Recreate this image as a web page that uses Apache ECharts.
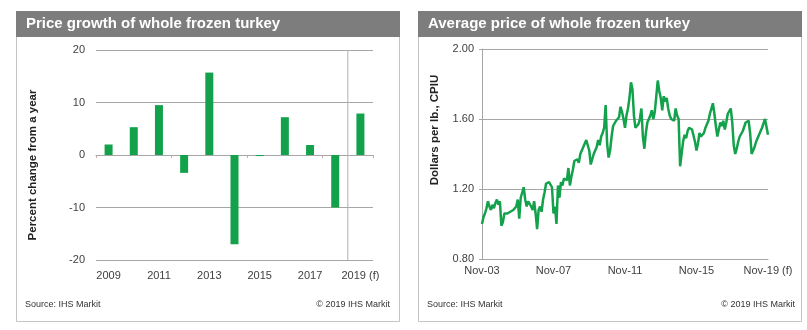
<!DOCTYPE html>
<html>
<head>
<meta charset="utf-8">
<script src="https://cdn.jsdelivr.net/npm/echarts@6/dist/echarts.min.js"></script>
<style>
  html, body { margin: 0; padding: 0; background: #fff; }
  #chart { width: 807px; height: 330px; }
</style>
</head>
<body>
<div id="chart"></div>
<script>
// Annual price growth of whole frozen turkey, percent change from a year earlier
const growthYears = ['2009', '2010', '2011', '2012', '2013', '2014', '2015', '2016', '2017', '2018', '2019 (f)'];
const growthValues = [2.0, 5.3, 9.5, -3.4, 15.7, -17.0, -0.2, 7.2, 1.9, -10.0, 7.9];
const forecastBoundary = 10; // category boundary where the forecast starts

// Monthly average price, dollars per lb (CPIU), Nov-03 through Nov-19
const priceTickLabels = ['Nov-03', 'Nov-07', 'Nov-11', 'Nov-15', 'Nov-19 (f)'];
const monthlyPrice = [
  1.00, 1.04, 1.06, 1.09, 1.13, 1.10, 1.08, 1.11, 1.09, 1.12, 1.14, 1.11,
  1.13, 0.99, 1.01, 1.06, 1.05, 1.06, 1.06, 1.07, 1.06, 1.08, 1.07, 1.10,
  1.14, 1.03, 1.15, 1.18, 1.21, 1.14, 1.10, 1.13, 1.12, 1.10, 1.08, 1.13,
  1.06, 0.97, 1.08, 1.10, 1.07, 1.14, 1.18, 1.23, 1.22, 1.24, 1.23, 1.21,
  1.06, 1.10, 1.00, 1.22, 1.15, 1.24, 1.22, 1.26, 1.27, 1.25, 1.32, 1.22,
  1.27, 1.31, 1.36, 1.35, 1.37, 1.35, 1.40, 1.41, 1.44, 1.46, 1.48, 1.47,
  1.42, 1.34, 1.37, 1.40, 1.42, 1.44, 1.48, 1.45, 1.50, 1.52, 1.55, 1.68,
  1.46, 1.38, 1.42, 1.50, 1.56, 1.55, 1.59, 1.58, 1.61, 1.67, 1.64, 1.60,
  1.55, 1.62, 1.66, 1.72, 1.81, 1.77, 1.62, 1.55, 1.56, 1.57, 1.60, 1.66,
  1.50, 1.43, 1.52, 1.58, 1.60, 1.62, 1.65, 1.60, 1.64, 1.73, 1.82, 1.76,
  1.72, 1.65, 1.73, 1.70, 1.72, 1.66, 1.62, 1.60, 1.61, 1.59, 1.66, 1.62,
  1.60, 1.33, 1.40, 1.47, 1.51, 1.49, 1.53, 1.55, 1.56, 1.54, 1.55, 1.47,
  1.42, 1.46, 1.52, 1.50, 1.49, 1.52, 1.55, 1.57, 1.59, 1.63, 1.66, 1.69,
  1.63, 1.56, 1.50, 1.54, 1.58, 1.56, 1.59, 1.54, 1.58, 1.63, 1.62, 1.66,
  1.58, 1.45, 1.40, 1.43, 1.47, 1.50, 1.51, 1.53, 1.52, 1.58, 1.57, 1.59,
  1.52, 1.40, 1.42, 1.44, 1.47, 1.49, 1.51, 1.53, 1.55, 1.54, 1.60, 1.61,
  1.51
];

const FONT = '"Liberation Sans", Arial, sans-serif';
const GREEN = '#13a24b';
const GRID_GRAY = '#a6a6a6';
const TEXT = '#404040';

const chart = echarts.init(document.getElementById('chart'), null, { renderer: 'canvas' });

function panel(x, w, title) {
  return [
    { type: 'rect', shape: { x: x + 0.5, y: 11.5, width: w, height: 310 },
      style: { fill: '#fff', stroke: '#c4c4c4', lineWidth: 1 }, z: -10 },
    { type: 'rect', shape: { x: x, y: 11, width: w + 1, height: 26 },
      style: { fill: '#7d7d7d' }, z: -5 },
    { type: 'text', x: x + 10, y: 24, z: 10,
      style: { text: title, fill: '#fff', font: 'bold 15px ' + FONT, verticalAlign: 'middle' } }
  ];
}

function footer(x1, x2) {
  return [
    { type: 'text', x: x1, y: 305, z: 10,
      style: { text: 'Source: IHS Markit', fill: '#333', font: '9px ' + FONT, verticalAlign: 'middle' } },
    { type: 'text', x: x2, y: 305, z: 10,
      style: { text: '\u00a9 2019 IHS Markit', fill: '#333', font: '9px ' + FONT, align: 'right', verticalAlign: 'middle' } }
  ];
}

function axisName(x, y, text) {
  return { type: 'text', x: x, y: y, rotation: Math.PI / 2, z: 10,
    style: { text: text, fill: '#222', font: 'bold 11.5px ' + FONT, align: 'center', verticalAlign: 'middle' } };
}

const option = {
  animation: false,
  backgroundColor: '#fff',
  textStyle: { fontFamily: FONT },
  graphic: [].concat(
    panel(16, 383, 'Price growth of whole frozen turkey'),
    panel(418, 383, 'Average price of whole frozen turkey'),
    footer(25, 390),
    footer(427, 795),
    [axisName(33, 165, 'Percent change from a year'), axisName(435, 130, 'Dollars per lb., CPIU')]
  ),
  grid: [
    { left: 96, right: 434, top: 50, bottom: 70 },
    { left: 482, right: 39, top: 49, bottom: 71 }
  ],
  xAxis: [
    { // category axis riding on the zero line
      type: 'category', gridIndex: 0, data: growthYears,
      axisLine: { onZero: true, lineStyle: { color: GRID_GRAY, width: 1 } },
      axisTick: { show: true, length: 3, lineStyle: { color: '#c8a8a8' } },
      axisLabel: { show: false }, splitLine: { show: false }
    },
    { // year labels along the bottom edge
      type: 'category', gridIndex: 0, data: growthYears, position: 'bottom',
      axisLine: { show: false, onZero: false }, axisTick: { show: false },
      axisLabel: { interval: 1, color: TEXT, fontSize: 11, margin: 10, fontFamily: FONT },
      splitLine: { show: false }
    },
    { // index scale used for the forecast divider
      type: 'value', gridIndex: 0, min: 0, max: growthYears.length, show: false
    },
    {
      type: 'value', gridIndex: 1, min: 0, max: monthlyPrice.length - 1, interval: 48,
      axisLine: { show: true, lineStyle: { color: GRID_GRAY } },
      axisTick: { show: false },
      axisLabel: { color: TEXT, fontSize: 11, margin: 6, fontFamily: FONT,
        formatter: v => priceTickLabels[Math.round(v / 48)] || '' },
      splitLine: { show: false }
    }
  ],
  yAxis: [
    {
      type: 'value', gridIndex: 0, min: -20, max: 20, interval: 10,
      axisLine: { show: false }, axisTick: { show: false },
      axisLabel: { color: TEXT, fontSize: 11, margin: 11, fontFamily: FONT },
      splitLine: { lineStyle: { color: GRID_GRAY, width: 1 } }
    },
    {
      type: 'value', gridIndex: 1, min: 0.8, max: 2.0, interval: 0.4,
      axisLine: { show: true, lineStyle: { color: GRID_GRAY } },
      axisTick: { show: true, length: 3, lineStyle: { color: GRID_GRAY } },
      axisLabel: { color: TEXT, fontSize: 11, margin: 8, fontFamily: FONT,
        formatter: v => v.toFixed(2) },
      splitLine: { lineStyle: { color: GRID_GRAY, width: 1 } }
    }
  ],
  series: [
    {
      type: 'bar', xAxisIndex: 0, yAxisIndex: 0, data: growthValues,
      barWidth: 8, itemStyle: { color: GREEN }, silent: true, z: 3
    },
    {
      type: 'line', xAxisIndex: 2, yAxisIndex: 0, silent: true, symbol: 'none',
      data: [[forecastBoundary, 20], [forecastBoundary, -20]],
      lineStyle: { color: '#b0b0b0', width: 1 }, z: 1
    },
    {
      type: 'line', xAxisIndex: 3, yAxisIndex: 1, silent: true, symbol: 'none',
      data: monthlyPrice.map((v, i) => [i, v]),
      lineStyle: { color: GREEN, width: 2.5 }, z: 3
    }
  ]
};

chart.setOption(option);
</script>
</body>
</html>
